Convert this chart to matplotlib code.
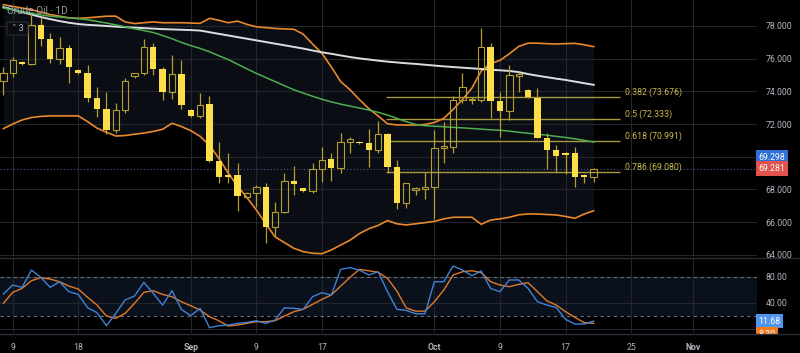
import numpy as np
import matplotlib.pyplot as plt
from matplotlib.transforms import blended_transform_factory
from matplotlib.patches import Rectangle, FancyBboxPatch

plt.rcParams['font.family'] = ['Roboto', 'DejaVu Sans']

# bar index 0 = Aug 9 (daily bars, Sunday sessions included)
bars = np.arange(-1, 63)
opens = [74.64, 75.15, 75.82, 75.68, 78.06, 77.18, 75.98, 76.67, 75.31, 75.15,
         73.58, 72.92, 71.64, 72.86, 74.94, 75.10, 76.70, 75.35, 73.96, 75.06,
         72.86, 72.50, 73.21, 69.76, 68.90, 68.88, 67.52, 67.80, 68.13, 65.69,
         66.65, 68.50, 68.07, 67.93, 69.23, 69.84, 69.29, 70.90, 70.93, 70.82,
         70.42, 71.40, 69.40, 67.15, 67.97, 68.03, 68.13, 70.56, 70.58, 73.47,
         73.45, 73.47, 76.70, 73.43, 72.82, 74.96, 74.09, 73.62, 71.13, 70.42,
         70.21, 70.21, 68.89, 68.78]
highs = [75.51, 76.12, 75.88, 78.80, 78.57, 77.55, 77.30, 76.84, 75.35, 75.61,
         74.25, 73.98, 73.31, 74.80, 75.15, 77.18, 76.98, 75.51, 76.23, 75.92,
         72.90, 73.88, 73.72, 70.93, 70.25, 69.60, 67.87, 68.28, 68.42, 67.26,
         68.99, 69.46, 68.11, 69.60, 70.62, 70.21, 71.43, 71.23, 70.98, 71.70,
         72.19, 71.43, 69.80, 68.42, 68.13, 69.05, 71.64, 72.15, 73.72, 75.10,
         73.68, 77.90, 76.94, 73.98, 75.61, 75.20, 74.15, 74.23, 71.48, 70.72,
         70.27, 70.62, 68.93, 69.29]
lows = [73.78, 74.90, 75.62, 75.60, 76.78, 75.72, 75.68, 74.50, 75.05, 73.37,
        72.45, 71.39, 71.44, 72.66, 74.80, 75.00, 75.00, 73.47, 73.51, 72.90,
        72.46, 72.35, 69.70, 68.42, 68.38, 66.70, 67.46, 66.95, 64.75, 65.12,
        66.58, 67.66, 67.87, 67.77, 68.48, 68.54, 69.03, 70.25, 70.78, 69.36,
        70.25, 69.03, 66.79, 66.89, 67.66, 67.40, 66.18, 69.64, 70.25, 73.27,
        73.20, 73.37, 72.35, 71.19, 72.25, 73.98, 73.58, 71.13, 69.23, 69.09,
        68.93, 68.13, 68.42, 68.48]
closes = [75.10, 75.92, 75.68, 78.06, 77.20, 75.98, 76.67, 75.47, 75.10, 73.58,
          72.92, 71.64, 72.86, 74.64, 75.10, 76.74, 75.35, 73.96, 75.04, 73.15,
          72.50, 73.17, 69.76, 68.78, 68.78, 67.60, 67.80, 68.13, 65.69, 66.65,
          68.50, 68.32, 67.91, 69.23, 69.82, 69.29, 70.89, 71.07, 70.82, 70.42,
          71.37, 69.40, 67.15, 68.38, 68.07, 68.13, 70.52, 70.62, 73.47, 74.25,
          73.49, 76.70, 73.43, 72.82, 75.00, 75.04, 73.64, 71.13, 70.42, 70.07,
          70.09, 68.78, 68.78, 69.28]

bb_upper = [79.30, 79.20, 79.10, 79.00, 78.85, 78.70, 78.60, 78.50, 78.47, 78.50,
            78.55, 78.60, 78.60, 78.25, 78.15, 78.20, 78.25, 78.20, 78.20, 78.20,
            78.18, 78.16, 78.47, 78.35, 78.20, 78.30, 78.10, 77.95, 77.90, 77.85,
            77.82, 77.80, 77.50, 76.90, 76.33, 75.50, 74.60, 74.10, 73.50, 72.95,
            72.50, 72.02, 71.95, 71.94, 71.94, 71.98, 72.10, 72.35, 72.90, 73.50,
            74.20, 75.25, 75.70, 75.90, 76.30, 76.75, 76.95, 76.95, 76.92, 76.90,
            76.92, 76.94, 76.85, 76.74]
bb_lower = [71.72, 72.00, 72.25, 72.40, 72.47, 72.50, 72.50, 72.50, 72.50, 72.15,
            71.75, 71.50, 71.27, 71.30, 71.38, 71.45, 71.55, 71.68, 72.05, 71.85,
            71.60, 71.25, 70.70, 69.90, 69.00, 68.20, 67.50, 66.75, 65.90, 65.10,
            64.75, 64.40, 64.20, 64.10, 64.07, 64.30, 64.60, 64.90, 65.30, 65.60,
            65.80, 66.10, 65.90, 65.83, 65.90, 65.97, 66.05, 66.20, 66.30, 66.30,
            66.30, 65.87, 66.13, 66.20, 66.30, 66.45, 66.50, 66.50, 66.47, 66.44,
            66.35, 66.24, 66.50, 66.70]
ma_slow = [79.15, 79.00, 78.85, 78.70, 78.55, 78.42, 78.30, 78.20, 78.12, 78.07,
           78.04, 78.00, 77.96, 77.93, 77.90, 77.87, 77.84, 77.81, 77.79, 77.77,
           77.75, 77.72, 77.62, 77.52, 77.42, 77.32, 77.22, 77.12, 77.02, 76.92,
           76.82, 76.72, 76.62, 76.50, 76.39, 76.30, 76.20, 76.10, 76.02, 75.95,
           75.88, 75.82, 75.77, 75.72, 75.68, 75.63, 75.58, 75.53, 75.49, 75.45,
           75.41, 75.37, 75.33, 75.29, 75.25, 75.18, 75.06, 74.96, 74.87, 74.78,
           74.70, 74.60, 74.50, 74.40]
ma_fast = [79.10, 79.00, 78.88, 78.78, 78.68, 78.60, 78.55, 78.50, 78.45, 78.38,
           78.28, 78.18, 78.07, 77.95, 77.83, 77.72, 77.60, 77.42, 77.22, 77.00,
           76.80, 76.63, 76.42, 76.18, 75.95, 75.66, 75.38, 75.10, 74.85, 74.60,
           74.35, 74.10, 73.90, 73.70, 73.52, 73.36, 73.22, 73.10, 72.98, 72.86,
           72.72, 72.55, 72.35, 72.15, 71.98, 71.90, 71.87, 71.84, 71.80, 71.77,
           71.73, 71.69, 71.65, 71.62, 71.57, 71.50, 71.44, 71.38, 71.32, 71.25,
           71.18, 71.10, 71.00, 70.90]

stoch_k = [53.4, 67.2, 63.6, 90.3, 79.0, 63.6, 72.3, 56.9, 52.8, 32.2,
           24.7, 4.6, 23.6, 44.2, 50.3, 71.3, 54.4, 36.4, 58.5, 29.8,
           20.0, 31.3, 1.6, 4.6, 5.7, 8.2, 9.7, 12.3, 8.2, 13.3,
           32.3, 31.3, 29.8, 49.3, 55.4, 51.8, 91.3, 93.9, 90.3, 82.6,
           87.7, 56.9, 29.8, 28.2, 23.0, 23.0, 72.3, 72.3, 96.5, 90.3,
           81.6, 88.8, 62.0, 57.0, 75.0, 75.0, 62.0, 41.5, 36.4, 32.8,
           14.3, 7.2, 7.2, 11.68]
stoch_d = [39.0, 55.9, 62.0, 73.9, 78.5, 76.4, 72.3, 65.6, 61.0, 48.2,
           36.4, 19.5, 15.9, 23.6, 39.0, 55.9, 58.5, 52.8, 49.2, 41.5,
           35.4, 28.7, 18.5, 12.3, 4.1, 5.7, 8.2, 10.8, 10.8, 12.3,
           19.5, 26.2, 29.8, 37.5, 45.1, 51.8, 65.6, 79.0, 91.3, 89.2,
           86.7, 77.4, 58.0, 32.0, 27.0, 27.0, 41.5, 59.5, 82.6, 87.7,
           89.2, 86.2, 72.3, 67.2, 64.6, 68.2, 70.8, 57.0, 43.0, 36.4,
           26.2, 17.4, 9.2, 8.3]

fib_ratios = ['0.382', '0.5', '0.618', '0.786']
fib_prices = [73.676, 72.333, 70.991, 69.080]

tick_pos = [0, 7, 19, 26, 33, 45, 52, 59, 66, 72.6]
tick_labels = ['9', '18', 'Sep', '9', '17', 'Oct', '9', '17', '25', 'Nov']
price_ticks = [64, 66, 68, 70, 72, 74, 76, 78]

last_price = 69.281
bid_price = 69.298

BG = '#000000'
GRID = '#24262c'
TXT = '#b2b5be'
YEL = '#fbde48'
YEL_DIM = '#b49e33'
FIB = '#a89a3c'

W, H = 800, 353
fig = plt.figure(figsize=(W / 100, H / 100), dpi=100, facecolor=BG)
ax = fig.add_axes([0, 1 - 257 / H, 757 / W, 257 / H], facecolor=BG)
ax2 = fig.add_axes([0, 1 - 333 / H, 757 / W, 75 / H], facecolor=BG)

xmin, xmax = -1.355, 79.43
for a in (ax, ax2):
    a.set_xlim(xmin, xmax)
    for s in a.spines.values():
        s.set_visible(False)
    a.set_xticks(tick_pos)
    a.grid(axis='x', color=GRID, lw=0.8)
    a.set_axisbelow(True)
    a.yaxis.tick_right()
    a.tick_params(axis='both', length=0, labelsize=6.3, labelcolor=TXT)

# price pane
ax.set_ylim(63.87, 79.59)
ax.set_yticks(price_ticks)
# the 70 label sits under the live price tags
ax.set_yticklabels(['' if v == 70 else f'{v:.3f}' for v in price_ticks])
ax.tick_params(axis='y', pad=6)
ax.tick_params(axis='x', labelbottom=False)
ax.grid(axis='y', color=GRID, lw=0.8)

ax.fill_between(bars, bb_lower, bb_upper, color='#0a0d13', lw=0, zorder=0.5)
ax.plot(bars, bb_upper, color='#e8892c', lw=1.2, zorder=3)
ax.plot(bars, bb_lower, color='#e8892c', lw=1.2, zorder=3)
ax.plot(bars, ma_slow, color='#dcdde2', lw=1.4, zorder=3)
ax.plot(bars, ma_fast, color='#4caf50', lw=1.1, zorder=3)

ax.axhline(last_price, color='#4a5c8c', lw=0.8, ls=(0, (1, 2)), zorder=1)

for x, o, h, l, c in zip(bars, opens, highs, lows, closes):
    top, bot = max(o, c), min(o, c)
    hgt = max(top - bot, 0.08)
    if c >= o:
        ax.vlines(x, top, h, color=YEL_DIM, lw=0.9, zorder=4)
        ax.vlines(x, l, bot, color=YEL_DIM, lw=0.9, zorder=4)
        ax.bar(x, hgt, 0.68, bottom=bot, facecolor='none', edgecolor=YEL_DIM, lw=0.8, zorder=5)
    else:
        ax.vlines(x, l, h, color=YEL_DIM, lw=0.9, zorder=4)
        ax.bar(x, hgt, 0.68, bottom=bot, color=YEL, lw=0, zorder=5)

fib_start, fib_end = 39.8, 64.8
for r, p in zip(fib_ratios, fib_prices):
    ax.hlines(p, fib_start, fib_end, color=FIB, lw=1.0, zorder=2)
    ax.text(fib_end + 0.55, p, f'{r} ({p:.3f})', color='#cbb94e', fontsize=6.3,
            va='bottom', ha='left', zorder=6)

tr = blended_transform_factory(ax.transAxes, ax.transData)
ax.annotate(f'{bid_price:.3f}', xy=(1.002, bid_price), xycoords=tr, xytext=(0, 8),
            textcoords='offset points', color='white', fontsize=6.3, va='center', ha='left',
            annotation_clip=False,
            bbox=dict(boxstyle='square,pad=0.3', fc='#2f6fd6', ec='none'))
ax.annotate(f'{last_price:.3f}', xy=(1.002, last_price), xycoords=tr, xytext=(0, 0),
            textcoords='offset points', color='white', fontsize=6.3, va='center', ha='left',
            annotation_clip=False,
            bbox=dict(boxstyle='square,pad=0.3', fc='#e0524b', ec='none'))

# oscillator pane
ax2.set_ylim(-6.6, 108.8)
ax2.axhspan(20, 80, color='#0b111c', lw=0, zorder=0.3)
ax2.set_yticks([0, 40, 80])
ax2.set_yticklabels(['', '40.00', '80.00'])
ax2.tick_params(axis='y', pad=6)
ax2.tick_params(axis='x', pad=7)
ax2.grid(axis='y', color=GRID, lw=0.8)
for lvl in (80, 20):
    ax2.axhline(lvl, color='#6b6e78', lw=0.8, ls=(0, (3, 3)), zorder=1)
ax2.plot(bars, stoch_d, color='#e07a2a', lw=1.0, zorder=3)
ax2.plot(bars, stoch_k, color='#3f82d6', lw=1.0, zorder=3)
ax2.set_xticklabels(tick_labels)
for lab in ax2.get_xticklabels():
    if lab.get_text() in ('Sep', 'Oct', 'Nov'):
        lab.set_fontweight('bold')

tr2 = blended_transform_factory(ax2.transAxes, ax2.transData)
ax2.annotate(f'{stoch_k[-1]:.2f}', xy=(1.002, stoch_k[-1]), xycoords=tr2, xytext=(0, 0),
             textcoords='offset points', color='white', fontsize=6.3, va='center', ha='left',
             annotation_clip=False,
             bbox=dict(boxstyle='square,pad=0.3', fc='#4f94ef', ec='none'))
ax2.annotate(f'{stoch_d[-1]:.2f}', xy=(1.002, stoch_d[-1]), xycoords=tr2, xytext=(0, -8),
             textcoords='offset points', color='white', fontsize=6.3, va='center', ha='left',
             annotation_clip=False,
             bbox=dict(boxstyle='square,pad=0.3', fc='#f07b1d', ec='none'))

# pane separators and time-axis cover
fig.add_artist(Rectangle((0, 0), 1, 1 - 335 / H, transform=fig.transFigure,
                         facecolor=BG, edgecolor='none', zorder=0))
fig.add_artist(Rectangle((755 / W, 0), 45 / W, 1 - 335 / H, transform=fig.transFigure,
                         facecolor=BG, edgecolor='none', zorder=10))
fig.add_artist(plt.Line2D([0, 1], [1 - 258 / H] * 2, color='#2a2d35', lw=1.0, zorder=11))
fig.add_artist(plt.Line2D([0, 1], [1 - 334 / H] * 2, color='#2a2d35', lw=1.0, zorder=11))

# header
fig.text(7 / W, 1 - 11 / H, 'Crude Oil · 1D ·', color=TXT, fontsize=7.2, va='center', ha='left',
         alpha=0.85)
fig.add_artist(FancyBboxPatch((7 / W, 1 - 35 / H), 21 / W, 13 / H, transform=fig.transFigure,
                              boxstyle='round,pad=0,rounding_size=0.004',
                              facecolor='#0b0c10', edgecolor='#2a2d35', lw=0.8, zorder=11))
fig.text(17.5 / W, 1 - 28.5 / H, '\u02c5 3', color=TXT, fontsize=6.5, va='center', ha='center',
         zorder=12)

fig.savefig('out.png', dpi=100, facecolor=BG)
